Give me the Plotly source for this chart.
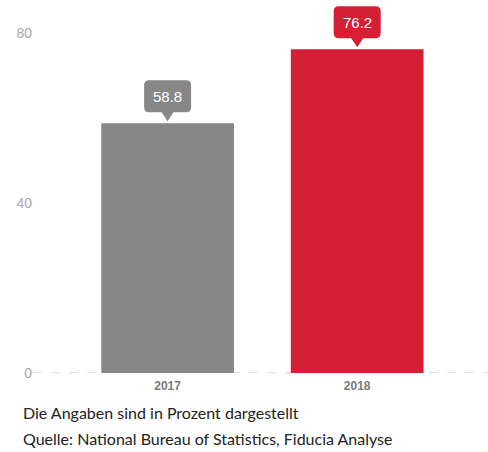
import plotly.graph_objects as go

years = ["2017", "2018"]
shares = [58.8, 76.2]
bar_colors = ["#878787", "#d41f35"]
y_ticks = [0, 40, 80]
notes = ["Die Angaben sind in Prozent dargestellt",
         "Quelle: National Bureau of Statistics, Fiducia Analyse"]

fig = go.Figure(go.Bar(
    x=years, y=shares, marker=dict(color=bar_colors, line=dict(width=0)),
    width=0.7, hoverinfo="skip",
))

# callout bubble (rounded box + pointer), in pixels relative to the bar top
BW, BH, TIP, GAP = 47, 32, 9, 2


def bubble_path(w=BW, h=BH, r=5, tip=TIP, tw=6, gap=GAP):
    b = gap + tip
    t = b + h
    hw = w / 2
    return (f"M 0 {gap} L {-tw} {b} L {-hw + r} {b} Q {-hw} {b} {-hw} {b + r} "
            f"L {-hw} {t - r} Q {-hw} {t} {-hw + r} {t} L {hw - r} {t} Q {hw} {t} {hw} {t - r} "
            f"L {hw} {b + r} Q {hw} {b} {hw - r} {b} L {tw} {b} Z")


for i, (v, c) in enumerate(zip(shares, bar_colors)):
    fig.add_shape(type="path", xref="x", yref="y", xsizemode="pixel", ysizemode="pixel",
                  xanchor=i, yanchor=v, path=bubble_path(), fillcolor=c,
                  line=dict(width=0), layer="above")
    fig.add_annotation(x=i, y=v, xref="x", yref="y", text=f"{v:.1f}", showarrow=False,
                       yshift=GAP + TIP + BH / 2, yanchor="middle",
                       font=dict(family="Arial", size=15, color="white"))

# dashed baseline
fig.add_shape(type="line", xref="paper", yref="y", x0=0, x1=1, y0=0, y1=0,
              line=dict(color="#bdbdbd", width=1, dash="dash"), layer="below")

for i, t in enumerate(notes):
    fig.add_annotation(xref="paper", yref="paper", x=-0.026, y=-0.106 - i * 0.071,
                       xanchor="left", yanchor="middle", text=t, showarrow=False,
                       font=dict(family="Lato", size=16, color="#222222"))

fig.update_layout(
    width=488, height=452,
    margin=dict(l=33, r=0, t=5, b=79),
    paper_bgcolor="white", plot_bgcolor="white",
    showlegend=False,
    xaxis=dict(range=[-0.71, 1.69], showgrid=False, zeroline=False, showline=False,
               ticks="", tickvals=years, ticktext=[f"<b>{y}</b>" for y in years],
               ticklabelstandoff=4,
               tickfont=dict(family="Arial", size=12, color="#7a7a7a")),
    yaxis=dict(range=[0, 86.6], tickvals=y_ticks, showgrid=False, zeroline=False,
               showline=False, ticks="", tickfont=dict(family="Arial", size=14, color="#a8a8a8")),
)

fig.write_html("out.html")
